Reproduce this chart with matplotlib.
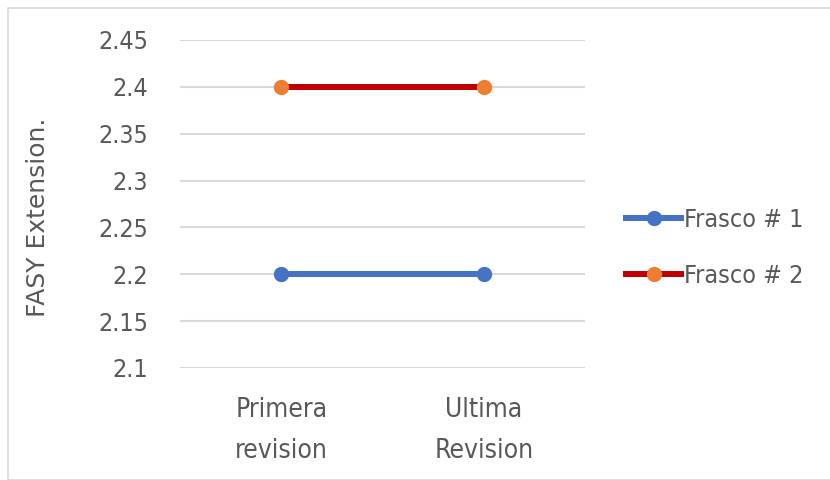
import matplotlib
matplotlib.use("Agg")
import matplotlib.pyplot as plt
from matplotlib.patches import Rectangle

# data
categories = ["Primera\nrevision", "Ultima\nRevision"]
frasco1 = [2.2, 2.2]
frasco2 = [2.4, 2.4]
yticks = [2.1, 2.15, 2.2, 2.25, 2.3, 2.35, 2.4, 2.45]
ytick_labels = ["2.1", "2.15", "2.2", "2.25", "2.3", "2.35", "2.4", "2.45"]

plt.rcParams['font.family'] = ['DejaVu Sans']
plt.rcParams['font.stretch'] = 'condensed'
txt = '#595959'

fig = plt.figure(figsize=(8.3, 4.8), dpi=100)
ax = fig.add_axes([180/830, 1-368/480, 405/830, 328/480])

# outer chart border like excel
fig.patches.append(Rectangle((8/830, 0), 1, 1-8/480, transform=fig.transFigure,
                             fill=False, edgecolor='#d9d9d9', linewidth=1.2))

x = range(len(categories))
ax.plot(x, frasco1, color='#4472c4', lw=4.3, marker='o', ms=10,
        markerfacecolor='#4472c4', markeredgecolor='#4472c4', label='Frasco # 1', zorder=3)
ax.plot(x, frasco2, color='#c00000', lw=4.3, marker='o', ms=10,
        markerfacecolor='#ed7d31', markeredgecolor='#ed7d31', label='Frasco # 2', zorder=3)

ax.set_xlim(-0.5, 1.5)
ax.set_ylim(2.1, 2.45)
ax.set_yticks(yticks)
ax.set_yticklabels(ytick_labels)
ax.set_xticks(list(x))
ax.set_xticklabels(categories, linespacing=1.75)
ax.tick_params(length=0, labelsize=18, colors=txt)
ax.tick_params(axis='y', pad=23)
ax.tick_params(axis='x', pad=21, labelsize=19)
ax.grid(axis='y', color='#d9d9d9', lw=1.5)
ax.set_axisbelow(True)
for s in ax.spines.values():
    s.set_visible(False)

ax.set_ylabel('FASY Extension.', fontsize=18, color=txt, fontstretch='normal')
ax.yaxis.set_label_coords((50 - 180) / 405, (368 - 217) / 328)

ax.legend(loc='center left', bbox_to_anchor=(1.077, 0.366), frameon=False,
          fontsize=18, labelcolor=txt, handlelength=2.2, handletextpad=0.1,
          labelspacing=1.3, borderaxespad=0)

fig.savefig('out.png', dpi=100)
